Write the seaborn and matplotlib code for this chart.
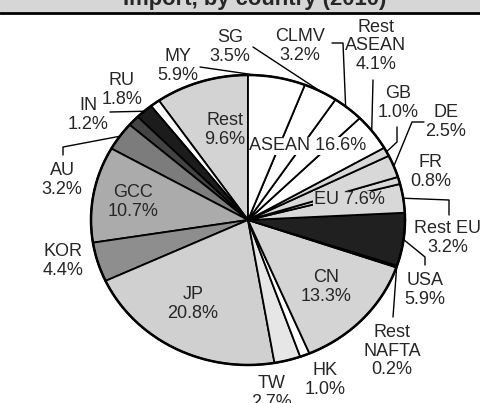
import numpy as np
import matplotlib
matplotlib.use("Agg")
import matplotlib.pyplot as plt
from matplotlib.lines import Line2D
from matplotlib.patches import Rectangle
import seaborn as sns

# ==========================================
# data (share of imports, %), counter-clockwise from 12 o'clock
# ==========================================
countries = ["Rest", "Other", "RU", "IN", "AU", "GCC", "KOR", "JP", "TW", "HK",
             "CN", "Rest\nNAFTA", "USA", "Rest EU", "FR", "DE", "GB",
             "Rest\nASEAN", "CLMV", "SG", "MY"]
shares = [9.6, 1.0, 1.8, 1.2, 3.2, 10.7, 4.4, 20.8, 2.7, 1.0,
          13.3, 0.2, 5.9, 3.2, 0.8, 2.5, 1.0,
          4.1, 3.2, 3.5, 5.9]
fills = ["#d3d3d3", "#ffffff", "#1c1c1c", "#444444", "#7c7c7c", "#ababab", "#8e8e8e",
         "#d0d0d0", "#e6e6e6", "#ffffff", "#d4d4d4", "#ffffff", "#202020",
         "#d8d8d8", "#d8d8d8", "#d8d8d8", "#d8d8d8",
         "#ffffff", "#ffffff", "#ffffff", "#ffffff"]

# group totals written inside the pie
group_names = ["ASEAN", "EU"]
group_shares = [16.6, 7.6]

# ==========================================
# layout (pixels of the 481x403 picture)
# ==========================================
W, H = 481, 403
CX, CY = 248, 220          # pie centre
RX, RY = 157, 145          # the scanned pie is a bit wider than tall

# label centre, leader polyline (label side), where on the wedge arc it ends
label_pos = {
    "MY": (178, 66), "SG": (230, 47), "CLMV": (300, 46), "Rest\nASEAN": (376, 46),
    "GB": (398, 103), "DE": (446, 122), "FR": (431, 172), "Rest EU": (448, 238),
    "USA": (425, 290), "Rest\nNAFTA": (392, 351), "HK": (325, 380), "TW": (272, 393),
    "JP": (193, 304), "KOR": (63, 261), "GCC": (133, 202), "AU": (62, 180),
    "IN": (88, 115), "RU": (122, 90), "CN": (326, 287), "Rest": (225, 130),
}
leaders = {
    "MY": ([(200, 67)], 0.85),
    "SG": ([(253, 47)], 0.5),
    "CLMV": ([(332, 43), (343, 43)], 0.6),
    "Rest\nASEAN": ([(373, 80)], 0.55),
    "GB": ([(397, 127), (397, 142)], 0.5),
    "DE": ([(424, 122), (412, 122)], 0.5),
    "Rest EU": ([(449, 215), (449, 200)], 0.5),
    "USA": ([(425, 265), (425, 257)], 0.5),
    "Rest\nNAFTA": ([(393, 317)], 0.5),
    "RU": ([(110, 112)], 0.5),
    "AU": ([(63, 155), (63, 147)], 0.5),
}
group_pos = {"ASEAN": (308, 146), "EU": (349, 200)}
group_bg = {"ASEAN": "#ffffff", "EU": "#d8d8d8"}


def px(p):
    return (p[0] - CX) / RX, (CY - p[1]) / RY


sns.set_theme(style="white")
plt.rcParams["font.family"] = ["Liberation Sans", "DejaVu Sans"]

fig = plt.figure(figsize=(W / 100, H / 100), dpi=100)
ax = fig.add_axes([0, 0, 1, 1])

wedges, _ = ax.pie(shares, colors=fills, startangle=90, counterclock=True,
                   wedgeprops=dict(edgecolor="black", linewidth=1.3))
ax.set_aspect("auto")
ax.set_xlim((0 - CX) / RX, (W - CX) / RX)
ax.set_ylim((CY - H) / RY, CY / RY)
ax.axis("off")

# thicker outline of the whole pie
t = np.linspace(0, 2 * np.pi, 400)
ax.plot(np.cos(t), np.sin(t), color="black", lw=1.8)

fs = 13
for name, share, w in zip(countries, shares, wedges):
    if name not in label_pos:
        continue
    x, y = px(label_pos[name])
    ax.text(x, y, f"{name}\n{share:.1f}%", ha="center", va="center",
            multialignment="center", fontsize=fs, linespacing=1.12)
    if name in leaders:
        pts, frac = leaders[name]
        ang = np.deg2rad(w.theta1 + frac * (w.theta2 - w.theta1))
        xs = [px(p)[0] for p in pts] + [np.cos(ang)]
        ys = [px(p)[1] for p in pts] + [np.sin(ang)]
        ax.plot(xs, ys, color="black", lw=1.0)

for g, s in zip(group_names, group_shares):
    x, y = px(group_pos[g])
    ax.text(x, y, f"{g} {s:.1f}%", ha="center", va="center", fontsize=fs, zorder=5,
            bbox=dict(facecolor=group_bg[g], edgecolor="none", pad=0.5))

# grey title band, cut off at the top like the scan
fig.add_artist(Rectangle((0, 1 - 12 / H), 1, 12 / H, transform=fig.transFigure,
                         facecolor="#d6d6d6", edgecolor="none"))
fig.add_artist(Line2D([0, 1], [1 - 12.5 / H] * 2, transform=fig.transFigure,
                      color="black", lw=2))
fig.text(255 / W, 1 - 4.5 / H, "Import, by country (2010)", ha="center",
         va="baseline", fontsize=15.8, fontweight="bold")

fig.savefig("out.png", dpi=100)
